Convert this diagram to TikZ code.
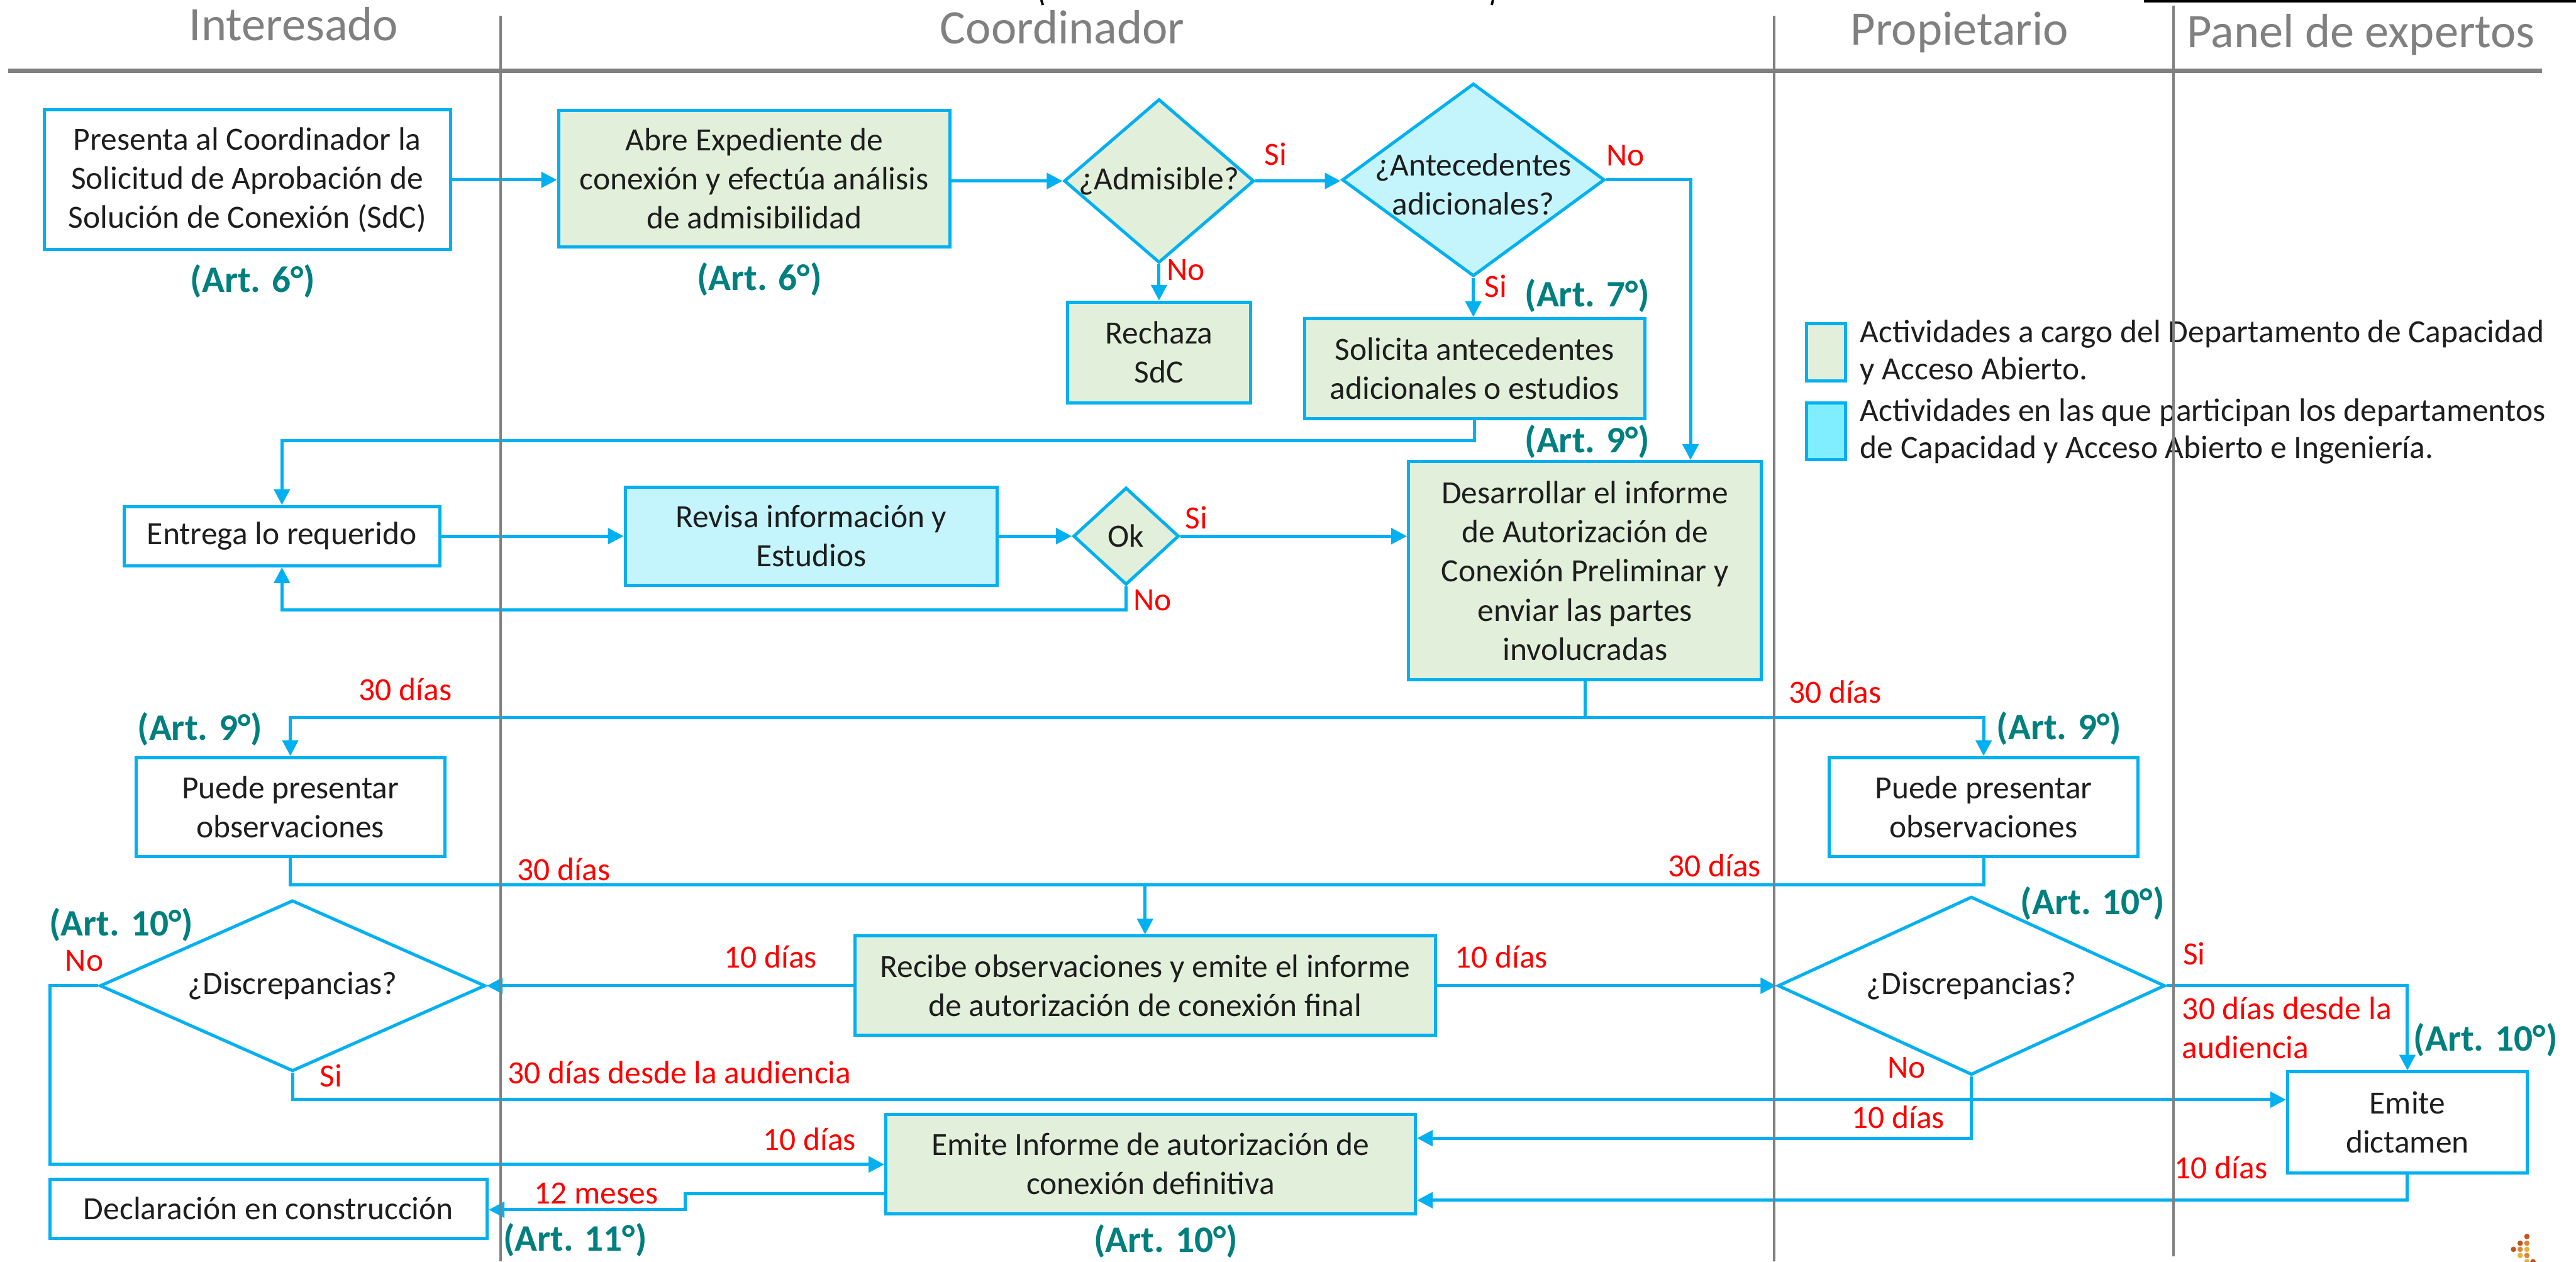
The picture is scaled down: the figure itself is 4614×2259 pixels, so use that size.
\documentclass[tikz,border=0pt]{standalone}
\usepackage{fontspec}
\setmainfont{Carlito}
\usetikzlibrary{arrows.meta,shapes.geometric}
\definecolor{cyb}{HTML}{00B0F0}
\definecolor{grf}{HTML}{E2EFDA}
\definecolor{cyf}{HTML}{C5F5FC}
\definecolor{cyl}{HTML}{80EEFF}
\definecolor{tealc}{HTML}{007F7F}
\definecolor{redl}{HTML}{FF0000}
\definecolor{txt}{HTML}{1E1E1E}
\definecolor{hdr}{HTML}{808080}
\definecolor{dotA}{HTML}{C8501C}
\definecolor{dotB}{HTML}{DD8530}
\definecolor{dotC}{HTML}{E8B23A}
\newcommand{\bodyf}{\fontsize{16.5}{19.9}\selectfont}
\newcommand{\artf}{\fontsize{19}{22}\selectfont\bfseries}
\newcommand{\headf}{\fontsize{24.5}{29}\selectfont}
\begin{document}
\begin{tikzpicture}[x=0.01cm,y=-0.01cm,
  bx/.style={draw=cyb,line width=1.6pt,align=center,inner sep=0pt,font=\bodyf,text=txt},
  gbx/.style={bx,fill=grf}, wbx/.style={bx,fill=white}, cbx/.style={bx,fill=cyf},
  dia/.style={diamond,draw=cyb,line width=1.6pt,inner sep=0pt},
  dtxt/.style={align=center,font=\bodyf,text=txt,inner sep=0pt},
  arr/.style={draw=cyb,line width=1.6pt,-{Triangle[length=8pt,width=8pt]}},
  ln/.style={draw=cyb,line width=1.6pt},
  art/.style={font=\artf,text=tealc,inner sep=0pt},
  lab/.style={font=\bodyf,text=redl,inner sep=0pt},
  hd/.style={font=\headf,text=hdr,inner sep=0pt,anchor=base},
  lane/.style={draw=hdr,line width=1.2pt},
  lgt/.style={anchor=west,align=left,font=\fontsize{16.5}{19}\selectfont,text=txt,inner sep=0pt}
]
\useasboundingbox (0,0) rectangle (4614,2259);
\clip (0,0) rectangle (4614,2259);
\fill[white] (0,0) rectangle (4614,2259);

% top fragments
\draw[line width=1.2pt] (1865,0) -- (1868,9);
\draw[line width=1.2pt] (2674,0) -- (2672,9);
\fill[black] (3840,0) rectangle (4614,4);

% headers
\node[hd] (hInt) at (526,73) {Interesado};
\node[hd] (hCoo) at (1903,78) {Coordinador};
\node[hd] (hPro) at (3510,81) {Propietario};
\node[hd] (hPan) at (4229,85) {Panel de expertos};
\draw[draw=hdr,line width=2.3pt] (15,127) -- (4553,127);

% nodes
\node[wbx,minimum width=7.27cm,minimum height=2.5cm] (pres) at (443,322) {Presenta al Coordinador la\\Solicitud de Aprobación de\\Solución de Conexión (SdC)};
\node[gbx,minimum width=7.01cm,minimum height=2.44cm] (abre) at (1351,320) {Abre Expediente de\\conexión y efectúa análisis\\de admisibilidad};
\node[dia,fill=grf,minimum width=3.4cm,minimum height=2.93cm] (adm) at (2076,324) {};
\node[dtxt] (admT) at (2076,324) {¿Admisible?};
\node[dia,fill=cyf,minimum width=4.7cm,minimum height=3.45cm] (ant) at (2639,322) {};
\node[dtxt] (antT) at (2639,330) {¿Antecedentes\\adicionales?};
\node[gbx,minimum width=3.28cm,minimum height=1.8cm] (rech) at (2076,631) {Rechaza\\SdC};
\node[gbx,minimum width=6.09cm,minimum height=1.79cm] (sol) at (2641,660) {Solicita antecedentes\\adicionales o estudios};
\node[wbx,minimum width=5.65cm,minimum height=1.06cm] (ent) at (505,960) {Entrega lo requerido};
\node[cbx,minimum width=6.66cm,minimum height=1.76cm] (rev) at (1453,960) {Revisa información y\\Estudios};
\node[dia,fill=grf,minimum width=1.89cm,minimum height=1.74cm] (ok) at (2017,960) {};
\node[dtxt] (okT) at (2017,960) {Ok};
\node[gbx,minimum width=6.32cm,minimum height=3.91cm] (des) at (2839,1022) {Desarrollar el informe\\de Autorización de\\Conexión Preliminar y\\enviar las partes\\involucradas};
\node[wbx,minimum width=5.53cm,minimum height=1.77cm] (puL) at (520,1445) {Puede presentar\\observaciones};
\node[wbx,minimum width=5.53cm,minimum height=1.77cm] (puR) at (3553,1445) {Puede presentar\\observaciones};
\node[gbx,minimum width=10.39cm,minimum height=1.78cm] (rec) at (2051,1765) {Recibe observaciones y emite el informe\\de autorización de conexión final};
\node[dia,fill=white,minimum width=6.9cm,minimum height=3.06cm] (disL) at (524,1765) {};
\node[dtxt] (disLT) at (524,1765) {¿Discrepancias?};
\node[dia,fill=white,minimum width=6.93cm,minimum height=3.19cm] (disR) at (3531,1765) {};
\node[dtxt] (disRT) at (3531,1765) {¿Discrepancias?};
\node[wbx,minimum width=4.29cm,minimum height=1.81cm] (dic) at (4312,2010) {Emite\\dictamen};
\node[gbx,minimum width=9.48cm,minimum height=1.78cm] (emi) at (2061,2084) {Emite Informe de autorización de\\conexión definitiva};
\node[wbx,minimum width=7.83cm,minimum height=1.06cm] (dec) at (481,2164) {Declaración en construcción};

% legend
\node[draw=cyb,line width=1.6pt,fill=grf,minimum width=0.7cm,minimum height=1.03cm,inner sep=0pt] (lg1) at (3271,631) {};
\node[draw=cyb,line width=1.6pt,fill=cyl,minimum width=0.7cm,minimum height=1.01cm,inner sep=0pt] (lg2) at (3271,772) {};
\node[lgt] (lg1T) at (3331,631) {Actividades a cargo del Departamento de Capacidad\\y Acceso Abierto.};
\node[lgt] (lg2T) at (3331,772) {Actividades en las que participan los departamentos\\de Capacidad y Acceso Abierto e Ingeniería.};

% connectors
\draw[arr] (pres.east) -- (pres.east -| abre.west);
\draw[arr] (adm.west -| abre.east) -- (adm.west);
\draw[arr] (adm.east) -- (adm.east -| ant.west);
\draw[arr] (adm.south) -- (rech.north);
\draw[arr] (ant.south) -- (ant.south |- sol.north);
\coordinate (nA) at (3028,324);
\draw[arr] (ant.east) -| (nA |- des.north);
\coordinate (jS) at (0,789);
\draw[arr] (sol.south) |- (ent.north |- jS) -- (ent.north);
\draw[arr] (ent.east) -- (rev.west);
\draw[arr] (rev.east) -- (ok.west);
\draw[arr] (ok.east) -- (ok.east -| des.west);
\coordinate (jN) at (0,1092);
\draw[arr] (ok.south) |- (ent.south |- jN) -- (ent.south);
\coordinate (jP) at (0,1285);
\draw[arr] (des.south) |- (puL.north |- jP) -- (puL.north);
\draw[arr] (des.south) |- (puR.north |- jP) -- (puR.north);
\coordinate (jQ) at (0,1584);
\draw[ln] (puL.south) |- (puR.south |- jQ) -- (puR.south);
\draw[arr] (rec.north |- jQ) -- (rec.north);
\draw[arr] (rec.west) -- (disL.east);
\draw[arr] (rec.east) -- (disR.west);
\coordinate (jL) at (89,2085);
\draw[arr] (disL.west) -| (jL) -- (jL -| emi.west);
\coordinate (jSi) at (0,1969);
\draw[arr] (disL.south) |- (dic.west |- jSi);
\draw[arr] (disR.east) -| (dic.north);
\coordinate (jR) at (0,2038);
\draw[arr] (disR.south) |- (emi.east |- jR);
\coordinate (jD) at (0,2149);
\draw[arr] (dic.south) |- (emi.east |- jD);
\coordinate (m1) at (1227,2137);
\coordinate (m2) at (1227,2166);
\draw[arr] (m1 -| emi.west) -- (m1) -- (m2) -- (m2 -| dec.east);

% red labels
\node[lab] (l1) at (2285,276) {Si};
\node[lab] (l2) at (2124,483) {No};
\node[lab] (l3) at (2911,278) {No};
\node[lab] (l4) at (2679,512) {Si};
\node[lab] (l5) at (2143,927) {Si};
\node[lab] (l6) at (2064,1075) {No};
\node[lab] (l7) at (726,1234) {30 días};
\node[lab] (l8) at (3287,1239) {30 días};
\node[lab] (l9) at (1010,1557) {30 días};
\node[lab] (l10) at (3071,1550) {30 días};
\node[lab] (l11) at (1380,1713) {10 días};
\node[lab] (l12) at (2689,1713) {10 días};
\node[lab] (l13) at (151,1720) {No};
\node[lab] (l14) at (593,1926) {Si};
\node[lab] (l15) at (1217,1920) {30 días desde la audiencia};
\node[lab] (l16) at (3930,1708) {Si};
\node[lab,align=left,anchor=west] (l17) at (3908,1840) {30 días desde la\\audiencia};
\node[lab] (l18) at (3415,1912) {No};
\node[lab] (l19) at (3400,2000) {10 días};
\node[lab] (l20) at (1450,2040) {10 días};
\node[lab] (l21) at (1068,2137) {12 meses};
\node[lab] (l22) at (3978,2091) {10 días};

% article labels
\node[art] (a1) at (453,503) {(Art. 6°)};
\node[art] (a2) at (1360,500) {(Art. 6°)};
\node[art] (a3) at (2843,529) {(Art. 7°)};
\node[art] (a4) at (2843,791) {(Art. 9°)};
\node[art] (a5) at (358,1305) {(Art. 9°)};
\node[art] (a6) at (3688,1304) {(Art. 9°)};
\node[art] (a7) at (217,1656) {(Art. 10°)};
\node[art] (a8) at (3748,1617) {(Art. 10°)};
\node[art] (a9) at (4452,1862) {(Art. 10°)};
\node[art] (a10) at (2088,2222) {(Art. 10°)};
\node[art] (a11) at (1030,2220) {(Art. 11°)};

% lanes
\draw[lane] (897,28) -- (897,2259);
\draw[lane] (3178,28) -- (3178,2259);
\draw[lane] (3893,10) -- (3893,2249);

% logo dots
\foreach \px/\py/\c in {4526/2214/dotA, 4514/2226/dotA, 4526/2226/dotB, 4502/2237/dotA, 4514/2237/dotB, 4526/2237/dotC, 4514/2248/dotC, 4526/2248/dotB, 4526/2259/dotC, 4537/2259/dotA}
  \fill[\c] (\px,\py) circle (4.8);
\end{tikzpicture}
\end{document}
